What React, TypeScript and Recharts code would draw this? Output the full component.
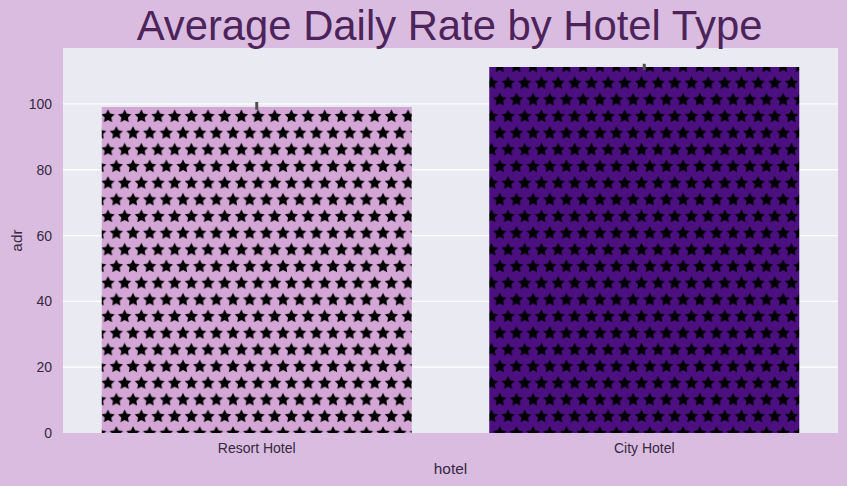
import { BarChart, Bar, XAxis, YAxis, CartesianGrid, Cell, ErrorBar, Label } from 'recharts'

const hotels = ['Resort Hotel', 'City Hotel']
const adr = [99.1, 111.2]
const adrError = [[0.9, 1.5], [0.9, 1.0]]
const yTicks = [0, 20, 40, 60, 80, 100]
const gridValues = [20, 40, 60, 80, 100]
const patternIds = ['starsResort', 'starsCity']
const barColors = ['#d3a6d6', '#4b0f80']

const data = hotels.map((hotel, i) => ({ hotel, adr: adr[i], err: adrError[i] }))

const TEXT = '#35283f'
const FONT = '"Liberation Sans", Arial, sans-serif'

// five pointed star around cx,cy
function starPoints(r: number, cx: number, cy: number) {
  const pts: string[] = []
  for (let i = 0; i < 10; i++) {
    const rad = i % 2 === 0 ? r : r * 0.5
    const a = (Math.PI / 5) * i - Math.PI / 2
    pts.push(`${(cx + rad * Math.cos(a)).toFixed(2)},${(cy + rad * Math.sin(a)).toFixed(2)}`)
  }
  return pts.join(' ')
}

const TILE = 16.67
const R = 7

function StarPattern({ id, color }: { id: string; color: string }) {
  const half = TILE / 2
  return (
    <pattern id={id} patternUnits="userSpaceOnUse" x={99.67} y={108.2} width={TILE} height={TILE * 2}>
      <rect width={TILE} height={TILE * 2} fill={color} />
      <polygon points={starPoints(R, half, half)} fill="#000" />
      <polygon points={starPoints(R, 0, half + TILE)} fill="#000" />
      <polygon points={starPoints(R, TILE, half + TILE)} fill="#000" />
    </pattern>
  )
}

export default function App() {
  return (
    <div style={{ position: 'absolute', left: 0, top: 0, width: 847, height: 486, background: '#dabce0' }}>
      <BarChart
        width={847}
        height={486}
        data={data}
        margin={{ top: 48, right: 9, bottom: 0, left: 0 }}
        barCategoryGap="10%"
      >
        <defs>
          {patternIds.map((id, i) => (
            <StarPattern key={id} id={id} color={barColors[i]} />
          ))}
        </defs>
        <CartesianGrid
          vertical={false}
          horizontalValues={gridValues}
          stroke="#ffffff"
          strokeWidth={1.3}
          fill="#eaeaf2"
          fillOpacity={1}
        />
        <XAxis
          dataKey="hotel"
          height={53}
          axisLine={false}
          tickLine={false}
          tick={{ fontSize: 14, fill: TEXT, fontFamily: FONT }}
          tickMargin={4}
        >
          <Label value="hotel" position="insideBottom" offset={12} style={{ fontSize: 15.4, fill: TEXT, fontFamily: FONT }} />
        </XAxis>
        <YAxis
          width={63}
          domain={[0, 117]}
          ticks={yTicks}
          axisLine={false}
          tickLine={false}
          tick={{ fontSize: 14, fill: TEXT, fontFamily: FONT }}
          tickMargin={5}
        >
          <Label value="adr" angle={-90} position="insideLeft" offset={17} style={{ fontSize: 15.4, fill: TEXT, fontFamily: FONT, textAnchor: 'middle' }} />
        </YAxis>
        <Bar dataKey="adr" isAnimationActive={false}>
          {data.map((d, i) => (
            <Cell key={d.hotel} fill={`url(#${patternIds[i]})`} />
          ))}
          <ErrorBar dataKey="err" width={0} stroke="#505050" strokeWidth={3} isAnimationActive={false} />
        </Bar>
        <text x={449.5} y={40} textAnchor="middle" fontSize={41.8} fill="#4c2459" fontFamily={FONT}>
          Average Daily Rate by Hotel Type
        </text>
      </BarChart>
    </div>
  )
}
